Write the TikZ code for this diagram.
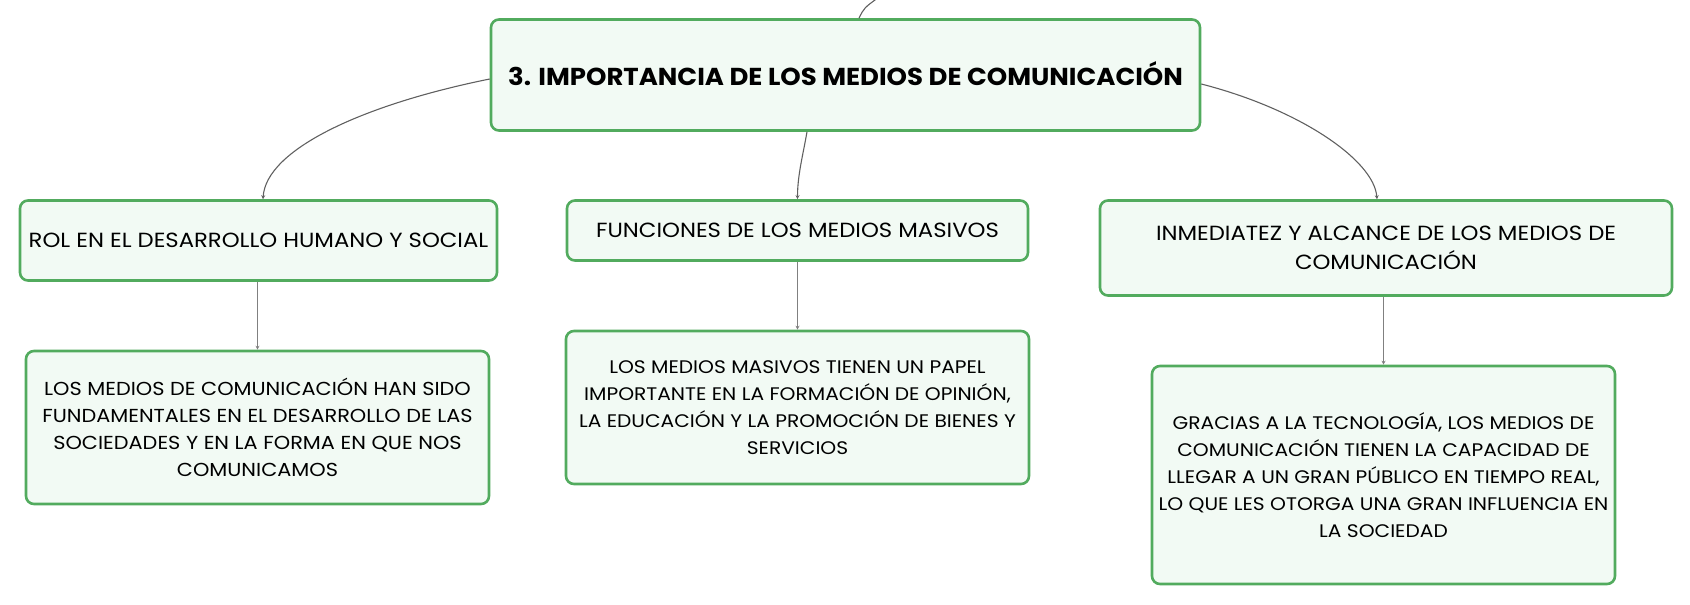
\documentclass[tikz,border=0pt]{standalone}
\usepackage{fontspec}
\setmainfont{Poppins}
\newfontfamily\bodyfont[FakeStretch=1.11]{Poppins}
\newfontfamily\titlefont[FakeStretch=1.06]{Poppins}
\usetikzlibrary{arrows.meta,calc}
\definecolor{boxborder}{HTML}{52AB5E}
\definecolor{boxfill}{HTML}{F2FAF4}
\definecolor{linkgray}{HTML}{606060}
\definecolor{vlinkgray}{HTML}{808080}
\tikzset{
  topicbox/.style={draw=boxborder, fill=boxfill, line width=2.6pt, rounded corners=8pt,
    align=center, inner sep=0pt, font=\bodyfont\fontsize{20.5}{27}\selectfont},
  childbox/.style={topicbox, font=\bodyfont\fontsize{18.8}{27}\selectfont},
  smallchildbox/.style={topicbox, font=\bodyfont\fontsize{18.2}{27}\selectfont},
  rootbox/.style={topicbox, font=\titlefont\fontsize{24.5}{28}\selectfont\bfseries},
  curvelink/.style={draw=linkgray, line width=1.1pt},
  vlink/.style={draw=vlinkgray, line width=1.3pt, -{Stealth[length=4pt,width=4pt]}},
  tiparrow/.style={-{Stealth[length=4pt,width=4pt]}}
}
\begin{document}
\begin{tikzpicture}[x=1pt,y=-1pt]
\useasboundingbox (0,0) rectangle (1690,605);
% boxes
\node[rootbox, minimum width=709pt, minimum height=111pt] (root) at (845.5,75)
  {\raisebox{3pt}{3. IMPORTANCIA DE LOS MEDIOS DE COMUNICACIÓN}};
\node[topicbox, minimum width=477pt, minimum height=80pt] (A) at (258.5,240.5)
  {ROL EN EL DESARROLLO HUMANO Y SOCIAL};
\node[topicbox, minimum width=461pt, minimum height=60pt] (B) at (797.5,230.5)
  {FUNCIONES DE LOS MEDIOS MASIVOS};
\node[topicbox, minimum width=572pt, minimum height=95pt, font=\bodyfont\fontsize{20.5}{29}\selectfont] (C) at (1386,248)
  {INMEDIATEZ Y ALCANCE DE LOS MEDIOS DE\\COMUNICACIÓN};
\node[childbox, minimum width=463pt, minimum height=153pt] (A2) at (257.5,427.5)
  {LOS MEDIOS DE COMUNICACIÓN HAN SIDO\\FUNDAMENTALES EN EL DESARROLLO DE LAS\\SOCIEDADES Y EN LA FORMA EN QUE NOS\\COMUNICAMOS};
\node[smallchildbox, minimum width=463pt, minimum height=153pt] (B2) at (797.5,407.5)
  {LOS MEDIOS MASIVOS TIENEN UN PAPEL\\IMPORTANTE EN LA FORMACIÓN DE OPINIÓN,\\LA EDUCACIÓN Y LA PROMOCIÓN DE BIENES Y\\SERVICIOS};
\node[smallchildbox, minimum width=463pt, minimum height=218pt] (C2) at (1383.5,475)
  {GRACIAS A LA TECNOLOGÍA, LOS MEDIOS DE\\COMUNICACIÓN TIENEN LA CAPACIDAD DE\\LLEGAR A UN GRAN PÚBLICO EN TIEMPO REAL,\\LO QUE LES OTORGA UNA GRAN INFLUENCIA EN\\LA SOCIEDAD};
% incoming link from above
\coordinate (up) at (879,-3);
\draw[curvelink] ([xshift=13.5pt]root.north) .. controls (864,8) .. (up);
% curved links
\draw[curvelink, tiparrow] ([yshift=-4pt]root.west) .. controls (361,105) and (266,150) .. ([xshift=4.5pt]A.north);
\draw[curvelink, tiparrow] ([xshift=-38.5pt]root.south) .. controls (803,155) and (797.5,175) .. (B.north);
\draw[curvelink, tiparrow] ([yshift=-9pt]root.east) .. controls (1299,109) and (1374,160) .. ([xshift=-9pt]C.north);
% vertical links
\draw[vlink] (A.south -| A2.north) -- (A2.north);
\draw[vlink] (B.south) -- (B2.north);
\draw[vlink] (C.south -| C2.north) -- (C2.north);
\end{tikzpicture}
\end{document}
